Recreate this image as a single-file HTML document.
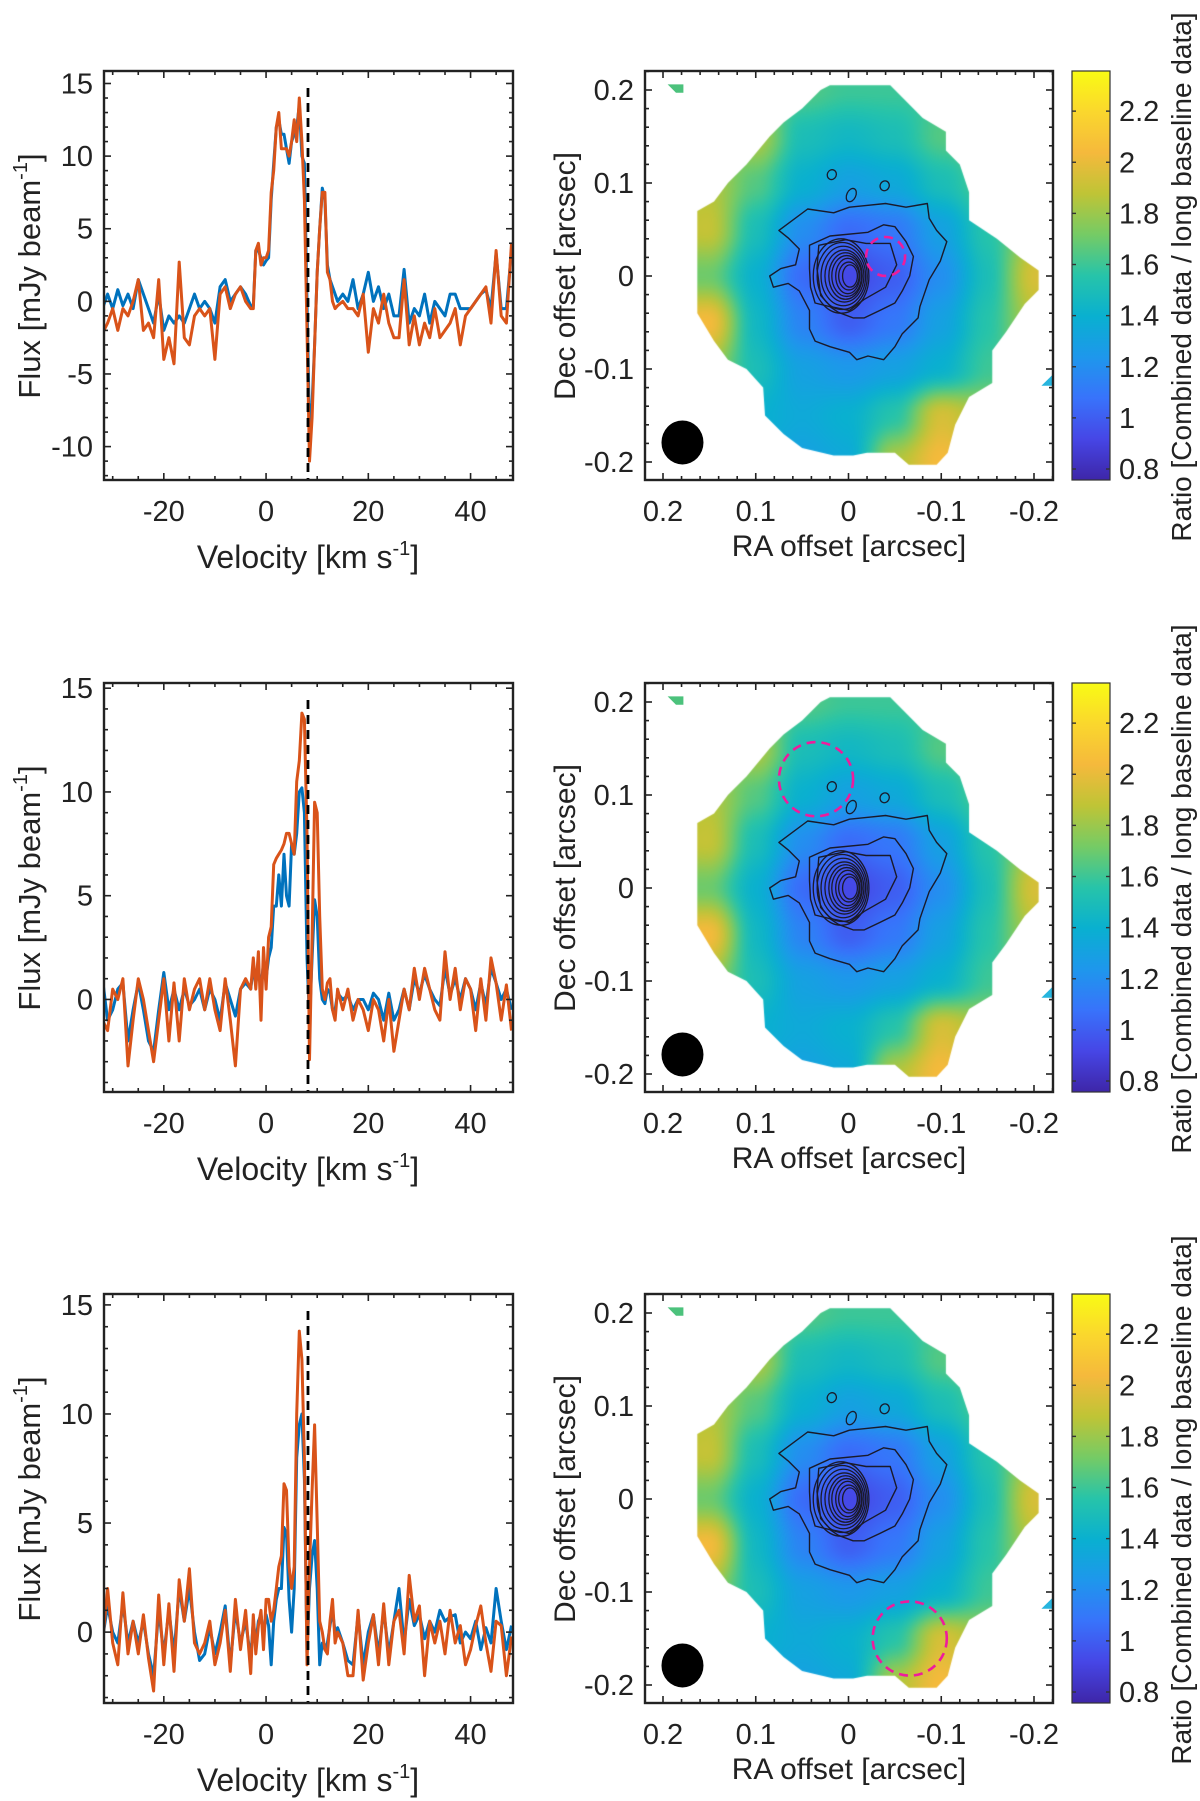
<!DOCTYPE html>
<html><head><meta charset="utf-8">
<style>
html,body{margin:0;padding:0;background:#fff;}
#wrap{position:relative;width:1200px;height:1801px;overflow:hidden;background:#fff;}
canvas{position:absolute;}
svg{position:absolute;left:0;top:0;}
text{font-family:"Liberation Sans",Arial,sans-serif;fill:#222;}
</style></head>
<body>
<div id="wrap">
<canvas id="map0" width="408" height="408" style="left:645px;top:71px"></canvas>
<canvas id="map1" width="408" height="408" style="left:645px;top:683px"></canvas>
<canvas id="map2" width="408" height="408" style="left:645px;top:1294px"></canvas>
<svg id="svg" width="1200" height="1801" xmlns="http://www.w3.org/2000/svg"></svg>
</div>
<script>
// ---------- spectra data ----------
const velocity = [-32,-31,-30,-29,-28,-27,-26,-25,-24,-23,-22,-21,-20,-19,-18,-17,-16,-15,-14,-13,-12,-11,-10,-9,-8,-7,-6,-5,-4,-3,
-2.5,-2,-1.5,-1,-0.5,0,0.5,1,1.5,2,2.5,3,3.5,4,4.5,5,5.5,6,6.5,7,7.5,8,8.5,9,9.5,10,10.5,11,11.5,12,12.5,13,13.5,14,
15,16,17,18,19,20,21,22,23,24,25,26,27,28,29,30,31,32,33,34,35,36,37,38,39,40,41,42,43,44,45,46,47,48];

const row1Orange = [-2.2,-1.5,-0.5,-2,-0.5,-1,0,1.5,-2,-1.5,-2.5,1.5,-4,-2.5,-4.3,2.7,-2.5,-3,-1,-0.5,-1,-0.5,-4,0.5,1,-0.5,0.5,1,0,-0.5,
-0.5,3.5,4,2.5,3,3,3.5,7.5,9,12,13,10.5,10.5,10.5,10,11,12.5,11,14,11,7,-2,-11,-8,-3,2,5,7.5,7.5,2,1.5,0,-0.5,-0.3,
0,-0.5,-0.5,-1,0.5,-3.5,-0.5,-1.5,0.5,-1.5,-2.5,-2.5,1.5,-3,-1,-3,-1.5,-2.5,-0.5,-2.5,-2,-1.5,-0.5,-3,-1,-0.5,0,0.5,1,-1.5,3.5,-1,-1.5,4];
const row1Blue = [-0.5,0.5,-0.5,0.8,-0.3,0.5,-0.5,1.5,0.5,-0.5,-1.5,0.5,-2,-1,-1.5,-1,-1.5,-0.5,0.5,-0.5,0,-0.5,-1.5,1,1.5,0,0.5,1,0.5,-0.3,
-0.3,3.5,3.5,3,2.5,2.8,3,7,9.5,12,12.5,11.5,11.5,10.5,9.5,11,11.5,12,13.5,10,9.5,0,-9,-7,-3,2,5,7.8,7,2.5,1.5,1,0.5,0,
0.5,0,1.5,-0.5,0.5,2,0,1,-0.5,0.5,-1,-1,2.2,-1.5,-0.5,-1,0.5,-1.5,0,-0.5,-1,0.5,0.5,-0.5,-0.5,-0.5,0,0.5,0.8,-0.5,3.3,-0.5,-0.5,3.5];

const row2Orange = [-1,-1.5,0.5,0,1,-3.2,-1,1,0,-1.5,-3,-1,1,-2,0.8,-2,1,-0.5,0.5,1,-0.5,1,-0.5,-1.5,1,-1,-3.2,0.5,1,0.5,
2,0.5,2.3,-1,2.5,0.5,3,3.5,6.5,6.8,7,7.2,7.5,8,8,7.5,7,10.5,11.5,13.8,13.5,8,-2.9,3,9.5,9,4,0.5,0,0.8,1,-0.5,-1,0.5,
-0.5,0.5,-1,0,-0.5,-1.5,0,-0.5,-2,0,-2.5,-1,0.5,-0.5,1.5,0,1.5,0.5,-0.5,-1,2.3,0,1.5,-0.5,1,0.5,-1.5,1,-1,2,0.8,-1,0.7,-1.5];
const row2Blue = [1,-1,-0.5,0.5,0.8,-2,-0.5,0.8,-0.5,-2,-2.5,-0.5,1.3,-0.5,0.5,-0.5,0.5,-0.3,0,0.5,-0.5,0.5,0,-1,0.8,0,-0.8,0.5,0.8,0.5,
1.5,0.8,1.5,0.5,1.8,1,2,2.5,4.5,4.5,6,4.5,7,5,4.5,7.5,7,8,10,10.2,9,2,-1,2,4.8,4,1,0,-0.2,0.5,0.3,-0.5,-0.5,0.3,
0,0.2,-0.5,0,0,-0.5,0.3,0,-1,0.3,-1,-0.5,0.5,-0.5,1,0.3,1.2,0.5,0,-0.3,1.5,0.2,1,0,1,0.5,-0.5,0.8,-0.3,1.5,0.8,0,0.5,-0.5];

const row3Orange = [-0.5,2,-0.5,-1.5,1.8,-1,0.5,-1,0.8,-1.2,-2.7,1.7,-1.5,1.3,-1.8,2.4,0.5,2.9,-0.5,-1,-0.5,0.5,-1.5,-0.5,1,-1.8,1.5,-0.8,1,-1.9,
0.8,-1,0.3,1,-0.8,1.5,1.5,0.5,1,2,3,3.5,6.8,6.5,3,2,3,10,13.8,12.5,8,-1.5,3,6.5,9.5,5,0.5,0,-0.8,-1,0.5,1.5,-0.5,0,
-0.5,-2,-2,1,-2.2,-0.5,0.8,-1.5,1.3,-1.5,0.5,1,-1,2.6,0.5,1.2,-2,0.5,-0.5,0.5,-1,1,-0.5,0.3,-1.5,-0.8,0.3,1.2,-0.5,-1.8,0.5,0.3,-2,-0.2];
const row3Blue = [-0.3,1.2,0,-0.5,1.3,-0.5,0.5,-0.5,0.5,-1,-2,1,-1,1,-1,2,0.5,2,0,-1.3,-1,0.2,-1,0,1.2,-1.5,1,-0.5,0.5,-1.2,
0.5,-0.5,0.5,0.8,-0.2,0.8,0.3,-1.5,0.5,1.5,2,2,4.8,4.5,1.5,0,2,8,9.5,10,7,-1,2,3.5,4.2,2,-1.5,-0.5,-0.8,-0.5,0.3,1,0,0.2,
-0.5,-1.3,-1.5,0.8,-1.5,0,0.8,-1,1,-1,0.5,2,-0.5,1.5,0.3,0.8,-0.3,0.5,0,1,0.5,0.7,0.8,-0.5,0,-0.3,0.5,-0.8,0.2,-0.5,2,0.5,-0.8,0.3];

const xTicks = [-20,0,20,40];
const row1YTicks = [15,10,5,0,-5,-10];
const row23YTicks = [15,10,5,0];
const systemicVelocity = 8.2;

// ---------- map data ----------
const gridRA = [0.2,0.15,0.1,0.05,0,-0.05,-0.1,-0.15,-0.2];
const gridDec = [0.2,0.15,0.1,0.05,0,-0.05,-0.1,-0.15,-0.2];
const ratioGrid = [
[1.6,1.6,1.7,1.65,1.6,1.6,1.6,1.7,1.7],
[1.7,1.75,1.85,1.5,1.45,1.5,1.65,1.7,1.7],
[1.85,1.85,1.65,1.4,1.3,1.35,1.5,1.65,1.7],
[1.85,1.9,1.5,1.2,1.05,1.1,1.3,1.55,1.8],
[1.7,1.7,1.4,1.05,0.92,1.0,1.2,1.5,1.95],
[2.0,2.05,1.45,1.15,1.0,1.1,1.3,1.55,1.85],
[1.95,1.8,1.5,1.3,1.25,1.3,1.4,1.6,1.7],
[1.6,1.5,1.4,1.35,1.4,1.55,1.95,1.8,1.7],
[1.5,1.4,1.35,1.3,1.35,1.85,2.05,1.85,1.7]];
const maskRA = [0.02,-0.045,-0.06,-0.08,-0.105,-0.105,-0.12,-0.13,-0.13,-0.16,-0.185,-0.205,-0.205,-0.19,-0.17,-0.155,-0.155,-0.13,-0.115,-0.107,-0.095,-0.065,-0.05,-0.02,-0.005,0.016,0.05,0.07,0.09,0.092,0.11,0.13,0.145,0.163,0.163,0.145,0.13,0.11,0.085,0.07,0.05,0.03];
const maskDec = [0.205,0.205,0.19,0.17,0.155,0.135,0.12,0.09,0.06,0.04,0.02,0.006,-0.015,-0.03,-0.06,-0.08,-0.115,-0.13,-0.16,-0.19,-0.203,-0.203,-0.19,-0.19,-0.193,-0.193,-0.185,-0.17,-0.15,-0.12,-0.1,-0.09,-0.07,-0.04,0.07,0.08,0.1,0.12,0.15,0.165,0.18,0.2];
const contour1RA = [0.075,0.044,0.016,-0.001,-0.021,-0.040,-0.062,-0.085,-0.087,-0.095,-0.106,-0.099,-0.087,-0.077,-0.075,-0.058,-0.050,-0.038,-0.021,-0.009,-0.001,0.020,0.036,0.042,0.042,0.053,0.065,0.081,0.085,0.073,0.057,0.053,0.065];
const contour1Dec = [0.049,0.072,0.068,0.074,0.076,0.078,0.074,0.078,0.062,0.049,0.037,0.016,-0.004,-0.033,-0.045,-0.062,-0.076,-0.090,-0.086,-0.090,-0.082,-0.076,-0.070,-0.057,-0.037,-0.016,-0.008,-0.012,0.000,0.008,0.012,0.029,0.041];
const contour2RA = [0.042,0.020,-0.021,-0.038,-0.050,-0.062,-0.070,-0.066,-0.058,-0.050,-0.034,-0.017,-0.005,0.011,0.020,0.036,0.041,0.042];
const contour2Dec = [0.033,0.043,0.047,0.055,0.053,0.037,0.021,0.000,-0.016,-0.029,-0.037,-0.045,-0.045,-0.039,-0.033,-0.029,-0.012,0.008];
const contour3RA = [0.032,0.003,-0.019,-0.045,-0.052,-0.040,-0.017,-0.001,0.019,0.030,0.034];
const contour3Dec = [0.033,0.039,0.035,0.035,0.012,-0.012,-0.025,-0.037,-0.033,-0.021,0.008];
const coreRx = [0.030,0.027,0.024,0.021,0.018,0.016,0.013,0.011,0.008];
const coreRy = [0.040,0.036,0.032,0.028,0.025,0.022,0.019,0.015,0.012];
const blobRA = [0.018,-0.003,-0.039];
const blobDec = [0.109,0.087,0.097];
const circleRA = [-0.040,0.035,-0.066];
const circleDec = [0.021,0.117,-0.150];
const circleR = [0.021,0.040,0.040];
const cbTicks = [0.8,1,1.2,1.4,1.6,1.8,2,2.2];
const cmin = 0.757, cmax = 2.357;

const parula = [[62,38,168],[70,70,230],[56,115,251],[30,151,236],[9,176,208],[39,196,169],[117,203,101],[191,196,54],[245,185,60],[250,215,45],[249,251,20]];

const NS = 'http://www.w3.org/2000/svg';
const svg = document.getElementById('svg');
function el(tag, attrs, parent){ const e=document.createElementNS(NS,tag); for(const k in attrs) e.setAttribute(k,attrs[k]); (parent||svg).appendChild(e); return e; }

const rowTops = [71,683,1294];
const BH = 409;

// ---------- spectra ----------
const SX0=104, SX1=513, VMIN=-31.7, VMAX=48.3;
function vx(v){ return SX0 + (v-VMIN)/(VMAX-VMIN)*(SX1-SX0); }

function drawSpectrum(r, yMin, yMax, yTicks, blue, orange){
  const top=rowTops[r], bot=top+BH;
  const fy = f => bot - (f-yMin)/(yMax-yMin)*BH;
  const g = el('g',{});
  
  
  const clipId='sc'+r;
  const cp = el('clipPath',{id:clipId},g);
  el('rect',{x:SX0,y:top,width:SX1-SX0,height:BH},cp);
  const lines = el('g',{'clip-path':'url(#'+clipId+')'},g);
  const mk = (arr,color,name)=>{
    let d='';
    arr.forEach((f,i)=>{ d+=(i?'L':'M')+vx(velocity[i]).toFixed(1)+','+fy(f).toFixed(1); });
    const p=el('path',{d:d,fill:'none',stroke:color,'stroke-width':3,'stroke-linejoin':'round'},lines);
    
    
  };
  mk(blue,'#0072BD','combined-spectrum-line-'+(r+1));
  mk(orange,'#D95319','long-baseline-spectrum-line-'+(r+1));
  const dl = el('line',{x1:vx(systemicVelocity),x2:vx(systemicVelocity),y1:top+17,y2:bot,stroke:'#000','stroke-width':2.8,'stroke-dasharray':'9,6'},g);
  
  
  for(let v=-30; v<=48; v+=5){
    const x=vx(v), L=(v%20===0)?7:4;
    el('line',{x1:x,x2:x,y1:bot,y2:bot-L,stroke:'#222','stroke-width':1.6},g);
    el('line',{x1:x,x2:x,y1:top,y2:top+L,stroke:'#222','stroke-width':1.6},g);
  }
  for(let f=Math.ceil(yMin); f<=yMax; f+=1){
    const y=fy(f), L=(f%5===0)?7:4;
    el('line',{x1:SX0,x2:SX0+L,y1:y,y2:y,stroke:'#222','stroke-width':1.6},g);
    el('line',{x1:SX1,x2:SX1-L,y1:y,y2:y,stroke:'#222','stroke-width':1.6},g);
  }
  el('rect',{x:SX0,y:top,width:SX1-SX0,height:BH,fill:'none',stroke:'#222','stroke-width':2.4},g);
  xTicks.forEach(v=>{
    const t=el('text',{x:vx(v),y:bot+41,'font-size':29,'text-anchor':'middle'},g); t.textContent=String(v);
     
  });
  yTicks.forEach(f=>{
    const t=el('text',{x:93,y:fy(f)+10,'font-size':29,'text-anchor':'end'},g); t.textContent=f;
     
  });
  const xl=el('text',{x:308,y:bot+88,'font-size':32,'text-anchor':'middle'},g);
  xl.innerHTML='Velocity [km s<tspan dy="-13" font-size="20">-1</tspan><tspan dy="13">]</tspan>';
   
  const yl=el('text',{x:0,y:0,'font-size':31,'text-anchor':'middle',transform:'translate(40,'+(top+205)+') rotate(-90)'},g);
  yl.innerHTML='Flux [mJy beam<tspan dy="-13" font-size="20">-1</tspan><tspan dy="13">]</tspan>';
   
}
drawSpectrum(0,-12.3,15.86,row1YTicks,row1Blue,row1Orange);
drawSpectrum(1,-4.46,15.25,row23YTicks,row2Blue,row2Orange);
drawSpectrum(2,-3.25,15.5,row23YTicks,row3Blue,row3Orange);

// ---------- maps ----------
const MX0=645, MX1=1053;
function rx(ra){ return 848.5 - ra*927.5; }
function dy(top,dec){ return top + 205 - dec*930; }
function cmap(v){
  let t=(v-cmin)/(cmax-cmin); t=Math.max(0,Math.min(1,t))*(parula.length-1);
  const i=Math.min(parula.length-2,Math.floor(t)), f=t-i;
  return parula[i].map((c,k)=>Math.round(c+(parula[i+1][k]-c)*f));
}
function sample(ra,dec){
  const step=gridRA[0]-gridRA[1];
  let c=(gridRA[0]-ra)/step, r=(gridDec[0]-dec)/step;
  c=Math.max(0,Math.min(gridRA.length-1.0001,c)); r=Math.max(0,Math.min(gridDec.length-1.0001,r));
  const c0=Math.floor(c), r0=Math.floor(r), fc=c-c0, fr=r-r0;
  const sc=fc*fc*(3-2*fc), sr=fr*fr*(3-2*fr);
  const a=ratioGrid[r0][c0], b=ratioGrid[r0][c0+1], d=ratioGrid[r0+1][c0], e=ratioGrid[r0+1][c0+1];
  return (a*(1-sc)+b*sc)*(1-sr)+(d*(1-sc)+e*sc)*sr;
}
const off=document.createElement('canvas'); off.width=408; off.height=408;
const octx=off.getContext('2d'); const img=octx.createImageData(408,408);
for(let py=0;py<408;py++){ for(let px=0;px<408;px++){
  const ra=(848.5-(MX0+px+0.5))/927.5, dec=(205-(py+0.5))/930;
  const c=cmap(sample(ra,dec)); const k=(py*408+px)*4;
  img.data[k]=c[0]; img.data[k+1]=c[1]; img.data[k+2]=c[2]; img.data[k+3]=255;
}}
octx.putImageData(img,0,0);

function drawMap(r){
  const top=rowTops[r], bot=top+BH;
  const ctx=document.getElementById('map'+r).getContext('2d');
  ctx.save(); ctx.beginPath();
  maskRA.forEach((ra,i)=>{ const x=rx(ra)-MX0, y=dy(top,maskDec[i])-top; i?ctx.lineTo(x,y):ctx.moveTo(x,y); });
  ctx.closePath(); ctx.clip();
  ctx.filter='blur(5px)'; ctx.drawImage(off,0,0); ctx.filter='none';
  ctx.restore();
  const g=el('g',{});
  
  
  el('polygon',{points:[[rx(0.195),dy(top,0.206)],[rx(0.178),dy(top,0.206)],[rx(0.178),dy(top,0.197)],[rx(0.186),dy(top,0.197)]].join(' '),fill:'#4cc27c'},g);
  el('polygon',{points:[[rx(-0.208),dy(top,-0.118)],[rx(-0.2213),dy(top,-0.118)],[rx(-0.2213),dy(top,-0.105)]].join(' '),fill:'#27b5de'},g);
  const poly=(ras,decs,name)=>{ const p=el('polygon',{points:ras.map((ra,i)=>rx(ra).toFixed(1)+','+dy(top,decs[i]).toFixed(1)).join(' '),fill:'none',stroke:'#1a1a2a','stroke-width':1.4,'stroke-linejoin':'round'},g);   };
  poly(contour1RA,contour1Dec,'contour-outer');
  poly(contour2RA,contour2Dec,'contour-second');
  poly(contour3RA,contour3Dec,'contour-third');
  coreRx.forEach((a,i)=>{ const e=el('ellipse',{cx:rx(0.008-i*0.0012),cy:dy(top,0.0),rx:a*927.5,ry:coreRy[i]*930,fill:'none',stroke:'#1a1a2a','stroke-width':1.3},g);   });
  blobRA.forEach((ra,i)=>{ el('ellipse',{cx:rx(ra),cy:dy(top,blobDec[i]),rx:4.5,ry:i==1?7:5,fill:'none',stroke:'#1a1a2a','stroke-width':1.3,transform:'rotate(25 '+rx(ra)+' '+dy(top,blobDec[i])+')'},g); });
  const mc=el('circle',{cx:rx(circleRA[r]),cy:dy(top,circleDec[r]),r:circleR[r]*927.5,fill:'none',stroke:'#ee1c9c','stroke-width':2.6,'stroke-dasharray':'9,6'},g);
   
  const bm=el('ellipse',{cx:rx(0.179),cy:dy(top,-0.179),rx:21,ry:22,fill:'#000'},g);
   
  for(let k=-11;k<=10;k++){
    const ra=k*0.02, x=rx(ra); if(x<MX0||x>MX1) continue; const L=(k%5===0)?7:4;
    el('line',{x1:x,x2:x,y1:bot,y2:bot-L,stroke:'#222','stroke-width':1.6},g);
    el('line',{x1:x,x2:x,y1:top,y2:top+L,stroke:'#222','stroke-width':1.6},g);
  }
  for(let k=-11;k<=11;k++){
    const y=dy(top,k*0.02); if(y<top||y>bot) continue; const L=(k%5===0)?7:4;
    el('line',{x1:MX0,x2:MX0+L,y1:y,y2:y,stroke:'#222','stroke-width':1.6},g);
    el('line',{x1:MX1,x2:MX1-L,y1:y,y2:y,stroke:'#222','stroke-width':1.6},g);
  }
  el('rect',{x:MX0,y:top,width:MX1-MX0,height:BH,fill:'none',stroke:'#222','stroke-width':2.4},g);
  [0.2,0.1,0,-0.1,-0.2].forEach(v=>{
    const t=el('text',{x:rx(v),y:bot+41,'font-size':29,'text-anchor':'middle'},g); t.textContent=v===0?'0':String(v);
     
    const u=el('text',{x:634,y:dy(top,v)+10,'font-size':29,'text-anchor':'end'},g); u.textContent=v===0?'0':String(v);
     
  });
  const xl=el('text',{x:849,y:bot+76,'font-size':30,'text-anchor':'middle'},g); xl.textContent='RA offset [arcsec]';
   
  const yl=el('text',{x:0,y:0,'font-size':30,'text-anchor':'middle',transform:'translate(575,'+(top+205)+') rotate(-90)'},g); yl.textContent='Dec offset [arcsec]';
   
  const CX0=1072, CX1=1110;
  const gid='cbg'+r; const lg=el('linearGradient',{id:gid,x1:0,y1:1,x2:0,y2:0},g);
  parula.forEach((c,i)=>el('stop',{offset:i/(parula.length-1),'stop-color':'rgb('+c.join(',')+')'},lg));
  const cb=el('rect',{x:CX0,y:top,width:CX1-CX0,height:BH,fill:'url(#'+gid+')',stroke:'#333','stroke-width':1.2},g);
   
  const cy=v=> bot-(v-cmin)/(cmax-cmin)*BH;
  cbTicks.forEach(v=>{
    const y=cy(v);
    el('line',{x1:CX0,x2:CX0+4,y1:y,y2:y,stroke:'#333','stroke-width':1.4},g);
    el('line',{x1:CX1,x2:CX1-4,y1:y,y2:y,stroke:'#333','stroke-width':1.4},g);
    const t=el('text',{x:1119,y:y+10,'font-size':29},g); t.textContent=v;
     
  });
  const cl=el('text',{x:0,y:0,'font-size':28,'text-anchor':'middle',transform:'translate(1191,'+(top+206)+') rotate(-90)'},g);
  cl.textContent='Ratio [Combined data / long baseline data]';
   
}
[0,1,2].forEach(drawMap);
</script>
</body></html>
